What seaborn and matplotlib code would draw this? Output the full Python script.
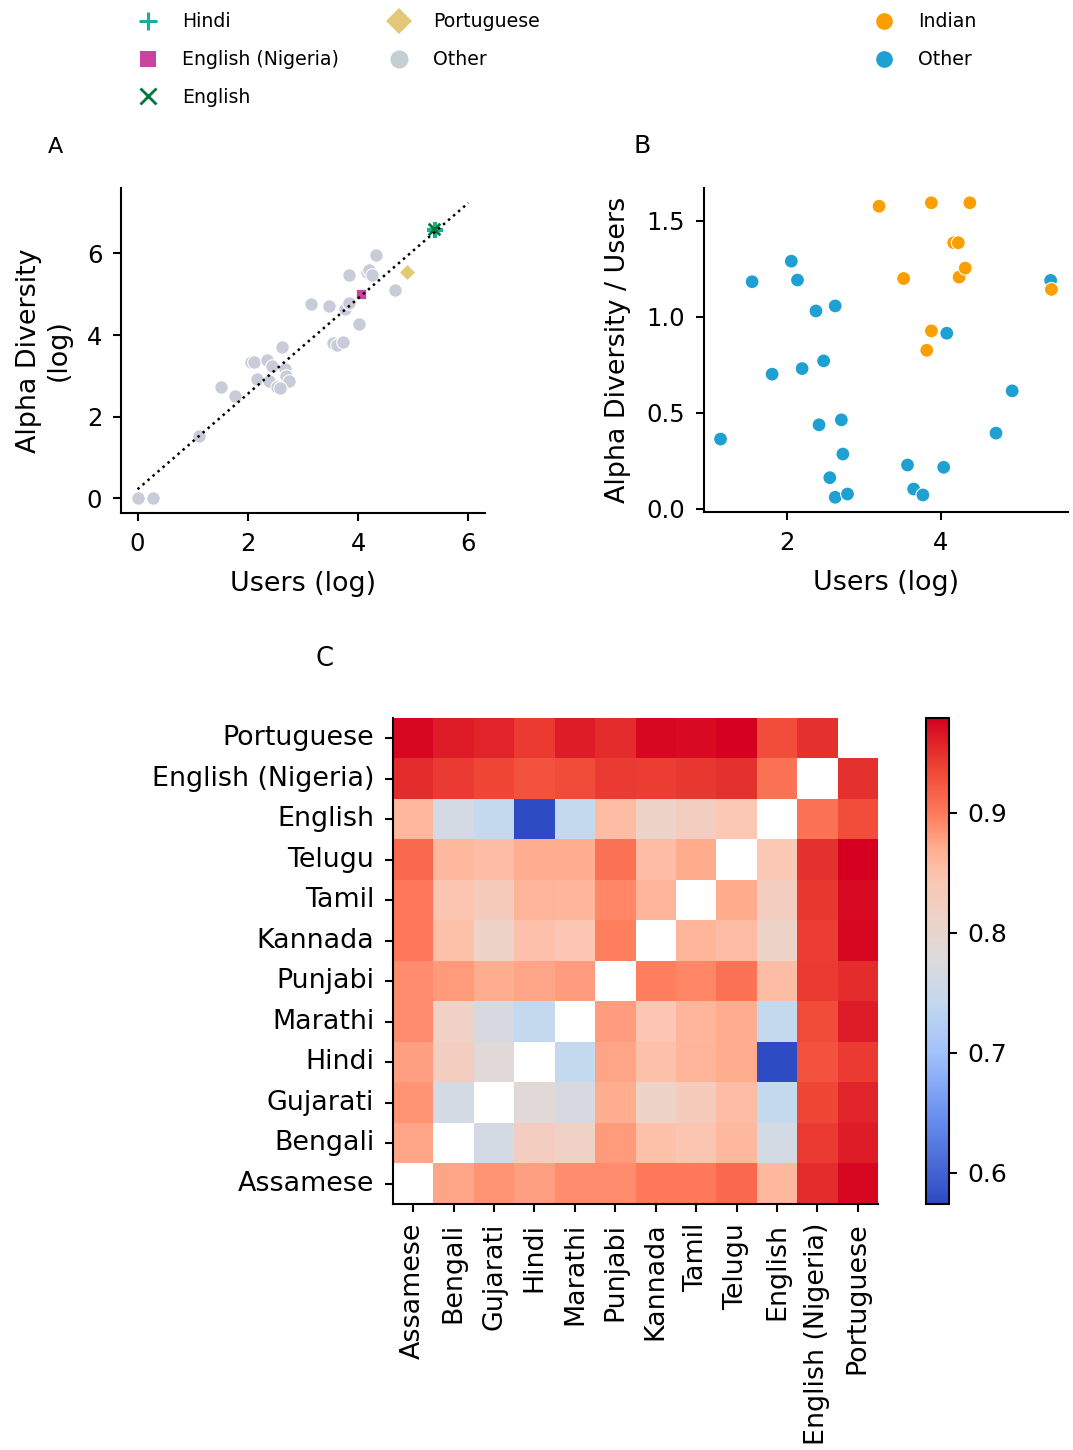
import numpy as np
import pandas as pd
import matplotlib
matplotlib.use("Agg")
import matplotlib.pyplot as plt
import seaborn as sns
from matplotlib.lines import Line2D
from matplotlib.colors import LinearSegmentedColormap

# ---------------- Panel A data ----------------
other_users = [0.00, 0.28, 1.11, 1.52, 1.76, 2.05, 2.12, 2.34, 2.17, 2.38, 2.44,
               2.61, 2.67, 2.70, 2.74, 2.53, 2.59, 3.14, 3.48, 3.54, 3.61, 3.73,
               3.77, 3.84, 3.84, 4.01, 4.16, 4.19, 4.25, 4.33, 4.67]
other_alpha = [0.00, 0.00, 1.52, 2.73, 2.50, 3.35, 3.33, 3.40, 2.93, 2.87, 3.24,
               3.70, 3.16, 3.00, 2.87, 2.73, 2.71, 4.76, 4.71, 3.80, 3.76, 3.84,
               4.64, 4.79, 5.46, 4.26, 5.54, 5.60, 5.46, 5.95, 5.11]
special_langs = ["Hindi", "English (Nigeria)", "English", "Portuguese"]
special_users = [5.40, 4.05, 5.38, 4.89]
special_alpha = [6.58, 5.00, 6.60, 5.54]
fit_intercept = 0.22
fit_slope = 1.17
fit_x = [0.0, 6.0]

# ---------------- Panel B data ----------------
indian_users = [3.20, 3.88, 4.38, 4.17, 4.23, 3.52, 4.24, 4.32, 5.44, 3.88, 3.82]
indian_ratio = [1.576, 1.594, 1.594, 1.386, 1.386, 1.200, 1.207, 1.254, 1.143, 0.927, 0.826]
otherB_users = [1.14, 1.55, 1.81, 2.06, 2.14, 2.20, 2.38, 2.42, 2.48, 2.56, 2.63, 2.63,
                2.71, 2.73, 2.79, 3.57, 3.65, 3.77, 4.04, 4.08, 4.72, 4.93, 5.43]
otherB_ratio = [0.364, 1.183, 0.702, 1.290, 1.192, 0.731, 1.031, 0.438, 0.771, 0.163,
                1.057, 0.061, 0.464, 0.286, 0.078, 0.229, 0.104, 0.073, 0.217, 0.915,
                0.395, 0.615, 1.190]

# ---------------- Panel C data ----------------
heat_langs = ["Assamese", "Bengali", "Gujarati", "Hindi", "Marathi", "Punjabi",
              "Kannada", "Tamil", "Telugu", "English", "English (Nigeria)", "Portuguese"]
nan = np.nan
similarity = [
    [nan, .875, .885, .878, .890, .890, .900, .900, .912, .860, .953, .975],
    [.875, nan, .765, .825, .815, .882, .852, .845, .860, .765, .944, .962],
    [.885, .765, nan, .785, .770, .870, .810, .830, .855, .745, .935, .958],
    [.878, .825, .785, nan, .745, .876, .850, .865, .870, .574, .928, .944],
    [.890, .815, .770, .745, nan, .880, .842, .862, .870, .745, .932, .962],
    [.890, .882, .870, .876, .880, nan, .897, .893, .905, .855, .943, .953],
    [.900, .852, .810, .850, .842, .897, nan, .862, .855, .810, .942, .975],
    [.900, .845, .830, .865, .862, .893, .862, nan, .873, .825, .945, .972],
    [.912, .860, .855, .870, .870, .905, .855, .873, nan, .840, .950, .979],
    [.860, .765, .745, .574, .745, .855, .810, .825, .840, nan, .905, .930],
    [.953, .944, .935, .928, .932, .943, .942, .945, .950, .905, nan, .950],
    [.975, .962, .958, .944, .962, .953, .975, .972, .979, .930, .950, nan],
]

# ---------------- styling ----------------
sns.set_style("ticks")
plt.rcParams["font.family"] = ["DejaVu Sans"]
plt.rcParams.update({
    "axes.linewidth": 1.5,
    "axes.edgecolor": "black",
    "axes.labelcolor": "black",
    "text.color": "black",
    "xtick.color": "black",
    "ytick.color": "black",
    "xtick.major.width": 1.5,
    "ytick.major.width": 1.5,
    "xtick.major.size": 6,
    "ytick.major.size": 6,
    "xtick.major.pad": 7.5,
    "ytick.major.pad": 7.5,
    "axes.labelpad": 11,
})

TICK_FS = 17.5
LABEL_FS = 19.4

grey = "#c8ccd8"
col_special = {"Hindi": "#16b09a", "English (Nigeria)": "#c9449f",
               "English": "#00793a", "Portuguese": "#e3c878"}
orange = "#fb9f00"
blue = "#1fa0d2"

# diverging blue-grey-red colour map (coolwarm-like, as rendered in the reference)
cmap_pos = [0.0, 0.19, 0.311, 0.422, 0.509, 0.583, 0.669, 0.731, 0.805, 0.891, 0.941, 1.0]
cmap_rgb = [(45, 75, 195), (110, 148, 242), (160, 195, 250), (197, 217, 238),
            (222, 218, 218), (237, 211, 200), (252, 198, 178), (255, 175, 145),
            (255, 122, 90), (240, 72, 55), (226, 42, 42), (213, 0, 32)]
heat_cmap = LinearSegmentedColormap.from_list(
    "cw", [(p, tuple(c / 255 for c in rgb)) for p, rgb in zip(cmap_pos, cmap_rgb)])

fig = plt.figure(figsize=(10.73, 14.5), dpi=100)
axA = fig.add_axes([0.1128, 0.6462, 0.3392, 0.2241])
axB = fig.add_axes([0.6561, 0.6469, 0.3392, 0.2234])
axC = fig.add_axes([0.3663, 0.1697, 0.4520, 0.3352])
cax = fig.add_axes([0.8630, 0.1697, 0.0214, 0.3352])

# ---- Panel A ----
dfA = pd.DataFrame({"users": other_users, "alpha": other_alpha})
sns.scatterplot(data=dfA, x="users", y="alpha", color=grey, s=95,
                edgecolor="white", linewidth=0.8, ax=axA, legend=False, zorder=2)
dfS = pd.DataFrame({"lang": special_langs, "users": special_users, "alpha": special_alpha})
for lang in ["Portuguese", "English (Nigeria)", "Hindi", "English"]:
    sub = dfS[dfS["lang"] == lang]
    if lang == "Hindi":
        sns.scatterplot(data=sub, x="users", y="alpha", marker="+", color=col_special[lang],
                        s=130, linewidth=3, ax=axA, legend=False, zorder=3)
    elif lang == "English":
        sns.scatterplot(data=sub, x="users", y="alpha", marker="x", color=col_special[lang],
                        s=70, linewidth=2, ax=axA, legend=False, zorder=3)
    elif lang == "Portuguese":
        sns.scatterplot(data=sub, x="users", y="alpha", marker="D",
                        color=col_special[lang], s=65, edgecolor="white",
                        linewidth=0.5, ax=axA, legend=False, zorder=3)
    else:
        sns.scatterplot(data=sub, x="users", y="alpha", marker="s",
                        color=col_special[lang], s=55, edgecolor="white",
                        linewidth=0.5, ax=axA, legend=False, zorder=3)
fx = np.array(fit_x)
axA.plot(fx, fit_intercept + fit_slope * fx, ls=":", color="black", lw=1.8, zorder=4)
axA.set_xticks([0, 2, 4, 6])
axA.set_yticks([0, 2, 4, 6])
axA.set_xlabel("Users (log)", fontsize=LABEL_FS)
axA.set_ylabel("Alpha Diversity\n(log)", fontsize=LABEL_FS)
axA.tick_params(labelsize=TICK_FS)
sns.despine(ax=axA)

# ---- Panel B ----
dfB = pd.DataFrame({
    "users": otherB_users + indian_users,
    "ratio": otherB_ratio + indian_ratio,
    "group": ["Other"] * len(otherB_users) + ["Indian"] * len(indian_users),
})
sns.scatterplot(data=dfB, x="users", y="ratio", hue="group",
                palette={"Indian": orange, "Other": blue}, s=100,
                edgecolor="white", linewidth=0.8, ax=axB, legend=False)
axB.set_xticks([2, 4])
axB.set_yticks([0.0, 0.5, 1.0, 1.5])
axB.set_xlabel("Users (log)", fontsize=LABEL_FS)
axB.set_ylabel("Alpha Diversity / Users", fontsize=LABEL_FS)
axB.tick_params(labelsize=TICK_FS)
sns.despine(ax=axB)

# ---- Panel C ----
dfC = pd.DataFrame(similarity, index=heat_langs, columns=heat_langs)
sns.heatmap(dfC, cmap=heat_cmap, ax=axC, cbar_ax=cax, linewidths=0, square=False)
axC.invert_yaxis()
for side in ["left", "bottom"]:
    axC.spines[side].set_visible(True)
    axC.spines[side].set_linewidth(1.5)
    axC.spines[side].set_color("black")
axC.set_xticks(np.arange(len(heat_langs)) + 0.5)
axC.set_yticks(np.arange(len(heat_langs)) + 0.5)
axC.set_xticklabels(heat_langs, rotation=90, fontsize=LABEL_FS)
axC.set_yticklabels(heat_langs, rotation=0, fontsize=LABEL_FS)
axC.tick_params(length=6, width=1.5, pad=7.5)
axC.set_xlabel("")
axC.set_ylabel("")
cax.tick_params(labelsize=18, length=6, width=1.5, pad=7.5)
cax.set_yticks([0.6, 0.7, 0.8, 0.9])
cbar = axC.collections[0].colorbar
cbar.outline.set_visible(True)
cbar.outline.set_linewidth(1.5)
cbar.outline.set_edgecolor("black")

# ---- Legends ----
h1 = [
    Line2D([], [], ls="", marker="+", ms=13, mew=2.2, color=col_special["Hindi"], label="Hindi"),
    Line2D([], [], ls="", marker="s", ms=11, mew=0, color=col_special["English (Nigeria)"], label="English (Nigeria)"),
    Line2D([], [], ls="", marker="x", ms=11, mew=2.0, color=col_special["English"], label="English"),
    Line2D([], [], ls="", marker="D", ms=13, mew=0, color=col_special["Portuguese"], label="Portuguese"),
    Line2D([], [], ls="", marker="o", ms=13, mew=0, color="#c3ced5", label="Other"),
]
fig.legend(handles=h1, loc="upper left", bbox_to_anchor=(0.1202, 0.9915), ncol=2,
           frameon=False, fontsize=13.6, borderpad=0, borderaxespad=0,
           handletextpad=0.8, columnspacing=2.2, labelspacing=1.0)
h2 = [
    Line2D([], [], ls="", marker="o", ms=12, mew=0, color=orange, label="Indian"),
    Line2D([], [], ls="", marker="o", ms=12, mew=0, color=blue, label="Other"),
]
fig.legend(handles=h2, loc="upper left", bbox_to_anchor=(0.8065, 0.9915), ncol=1,
           frameon=False, fontsize=13.6, borderpad=0, borderaxespad=0,
           handletextpad=0.8, labelspacing=1.0)

# ---- Panel letters ----
fig.text(0.0447, 0.8945, "A", fontsize=16, va="baseline")
fig.text(0.590, 0.8945, "B", fontsize=18, va="baseline")
fig.text(0.2945, 0.5407, "C", fontsize=18.5, va="baseline")

fig.savefig("out.png", dpi=100)
